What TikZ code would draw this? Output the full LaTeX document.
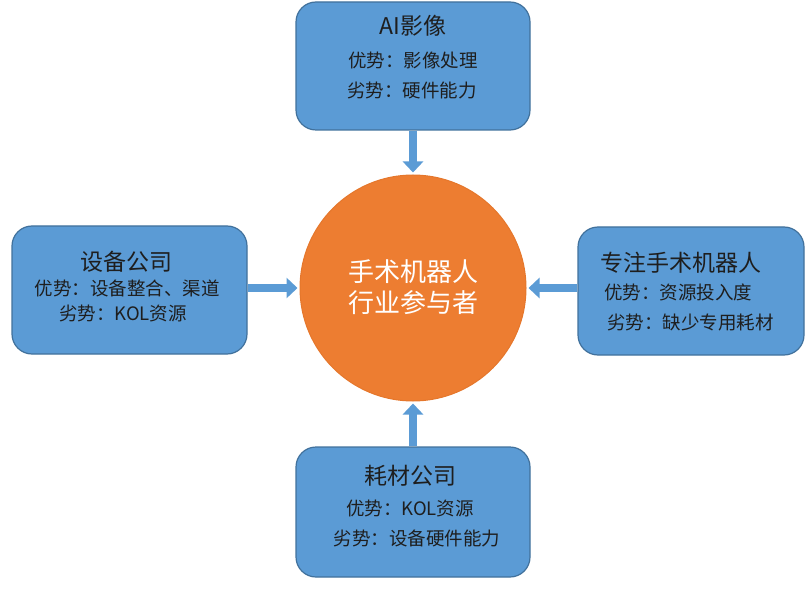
\documentclass[tikz,border=0pt]{standalone}
\usepackage{fontspec}
\setmainfont{Noto Sans CJK SC}
\usetikzlibrary{arrows.meta, positioning}
\definecolor{boxblue}{HTML}{5B9BD5}
\definecolor{boxedge}{HTML}{41719C}
\definecolor{arrowblue}{HTML}{5B9BD5}
\definecolor{coreorange}{HTML}{ED7D31}
\definecolor{coreedge}{HTML}{E5772C}
\definecolor{textdark}{HTML}{1E1E1E}

\begin{document}
\begin{tikzpicture}[x=1pt, y=-1pt,
  rolebox/.style={draw=boxedge, fill=boxblue, line width=1.2pt, rounded corners=20pt,
    minimum width=234pt, minimum height=128pt, inner sep=0pt},
  boxtitle/.style={text=textdark, font=\fontsize{23}{27}\selectfont, inner sep=0pt},
  boxline/.style={text=textdark, font=\fontsize{18.5}{22}\selectfont, inner sep=0pt},
  feed/.style={arrowblue, line width=8pt, shorten >=2pt,
    -{Triangle[width=20pt, length=11pt]}}
]
\useasboundingbox (0,0) rectangle (805,612);

% Centre: the players
\node[circle, draw=coreedge, fill=coreorange, line width=1pt, minimum size=226pt,
  inner sep=0pt] (core) at (413,288) {};
\node[text=white, font=\fontsize{26}{30}\selectfont, inner sep=0pt] (core-l1) at (413,272) {手术机器人};
\node[text=white, font=\fontsize{26}{30}\selectfont, inner sep=0pt] (core-l2) at (413,303) {行业参与者};

% Top: AI imaging
\node[rolebox] (ai) at (413,66) {};
\node[boxtitle] (ai-t) at (413,26) {AI影像};
\node[boxline] (ai-a) at (413,60) {优势：影像处理};
\node[boxline] (ai-b) at (412,90) {劣势：硬件能力};

% Left: equipment companies
\node[rolebox, minimum width=235pt] (equip) at (129.5,290) {};
\node[boxtitle] (equip-t) at (126,262) {设备公司};
\node[boxline] (equip-a) at (127,288) {优势：设备整合、渠道};
\node[boxline] (equip-b) at (123,313) {劣势：KOL资源};

% Right: dedicated surgical robot makers
\node[rolebox, minimum width=226pt] (robot) at (691,291) {};
\node[boxtitle] (robot-t) at (681,263) {专注手术机器人};
\node[boxline, anchor=west] (robot-a) at (604,292) {优势：资源投入度};
\node[boxline, anchor=west] (robot-b) at (607,322) {劣势：缺少专用耗材};

% Bottom: consumables companies
\node[rolebox, minimum height=130pt] (consum) at (413,512) {};
\node[boxtitle] (consum-t) at (410,476) {耗材公司};
\node[boxline] (consum-a) at (410,508) {优势：KOL资源};
\node[boxline] (consum-b) at (417,538) {劣势：设备硬件能力};

% Arrows into the centre
\draw[feed] (ai.south) -- (core.north);
\draw[feed] (equip.east |- core) -- (core.west);
\draw[feed] (robot.west |- core) -- (core.east);
\draw[feed] (consum.north) -- (core.south);
\end{tikzpicture}
\end{document}
